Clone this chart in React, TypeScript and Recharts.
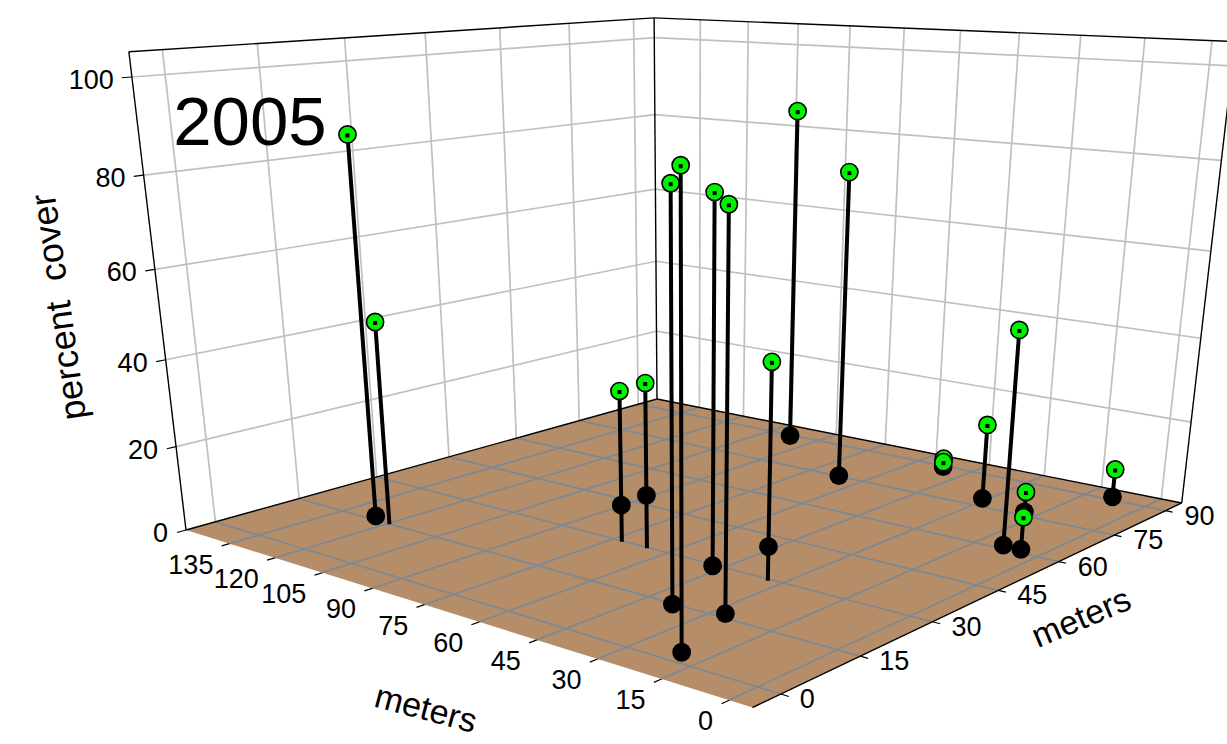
import { Area, ComposedChart, Line, Scatter, XAxis, YAxis } from "recharts";

const WIDTH = 1227;
const HEIGHT = 744;
const FONT = "Liberation Sans";

// plot ranges in meters / percent
const aRange = [-5, 150];
const bRange = [-5, 95];
const zMax = 105;

const aTicks = [0, 15, 30, 45, 60, 75, 90, 105, 120, 135];
const bTicks = [0, 15, 30, 45, 60, 75, 90];
const zTicks = [0, 20, 40, 60, 80, 100];

// sample sites
const siteA = [125.2, 119.4, 72.3, 65.3, 38.0, 17.9, 46.6, 27.0, 33.1, 97.5, 66.4, 54.8, 52.4, 30.7, 9.1, 18.0, 4.7, 8.8];
const siteB = [15.7, 14.9, 29.7, 29.7, 14.3, 0.7, 28.9, 15.9, 29.4, 88.9, 74.6, 91.9, 89.4, 78.2, 61.1, 76.2, 60.9, 90.9];
const coverTop = [87.3, 47.5, 34.9, 37.8, 84.8, 91.8, 79.9, 81.7, 47.4, 84.9, 74.8, 0.9, 1.3, 18.6, 48.9, 5.2, 7.8, 7.2];
const coverBase = [0.5, null, 8.7, 12.4, 0.4, 1.8, 0.5, 0.3, 7.7, 0.4, 0.4, null, 0.1, 0.3, 0.2, 0.3, 0.3, 0.3];

// camera: floor homography plus the vertical vanishing point
const G = 0.2907;
const H = 0.3406;
const VX = 690;
const VY = 4750;
const S = -0.0012512;

function project(a: number, b: number, z = 0) {
  const u = (a - aRange[0]) / (aRange[1] - aRange[0]);
  const v = (b - bRange[0]) / (bRange[1] - bRange[0]);
  const w = G * u + H * v + 1;
  const x = -512.43 * u + 831.7 * v + 752.5;
  const y = -23.43 * u - 33.2 * v + 707.5;
  const k = z * S;
  return { x: (x + k * VX) / (w + k), y: (y + k * VY) / (w + k) };
}

type Seg = { pts: { x: number; y: number }[]; stroke: string; width: number };
const seg = (p: { x: number; y: number }, q: { x: number; y: number }, stroke: string, width: number): Seg => ({
  pts: [p, q],
  stroke,
  width,
});

const GRID = "#c0c0c0";
const FLOOR_GRID = "#7f8890";
const BLACK = "#000";

const [aLo, aHi] = aRange;
const [bLo, bHi] = bRange;

const floorLines: Seg[] = [
  ...aTicks.map((a) => seg(project(a, bLo), project(a, bHi), FLOOR_GRID, 1.8)),
  ...bTicks.map((b) => seg(project(aLo, b), project(aHi, b), FLOOR_GRID, 1.8)),
];

const wallLines: Seg[] = [
  ...bTicks.map((b) => seg(project(aHi, b), project(aHi, b, zMax), GRID, 1.7)),
  ...aTicks.map((a) => seg(project(a, bHi), project(a, bHi, zMax), GRID, 1.7)),
  ...zTicks.slice(1).map((z) => seg(project(aHi, bLo, z), project(aHi, bHi, z), GRID, 1.7)),
  ...zTicks.slice(1).map((z) => seg(project(aHi, bHi, z), project(aLo, bHi, z), GRID, 1.7)),
];

const frameLines: Seg[] = [
  seg(project(aHi, bLo), project(aHi, bLo, zMax), BLACK, 1.4),
  seg(project(aHi, bHi), project(aHi, bHi, zMax), BLACK, 1.4),
  seg(project(aLo, bHi), project(aLo, bHi, zMax), BLACK, 1.4),
  seg(project(aHi, bLo, zMax), project(aHi, bHi, zMax), BLACK, 1.4),
  seg(project(aHi, bHi, zMax), project(aLo, bHi, zMax), BLACK, 1.4),
  seg(project(aHi, bLo), project(aHi, bHi), BLACK, 1.4),
  seg(project(aHi, bHi), project(aLo, bHi), BLACK, 1.4),
  seg(project(aLo, bLo), project(aLo, bHi), BLACK, 1.4),
  ...aTicks.map((a) => seg(project(a, bLo), project(a, bLo - 1.3), BLACK, 1.2)),
  ...bTicks.map((b) => seg(project(aLo, b), project(aLo - 1.7, b), BLACK, 1.2)),
  ...zTicks.map((z) => seg(project(aHi, bLo, z), project(aHi, bLo - 1.5, z), BLACK, 1.2)),
];

const stems: Seg[] = siteA.map((a, i) => seg(project(a, siteB[i]), project(a, siteB[i], coverTop[i]), BLACK, 4));

const topPoints = siteA.map((a, i) => project(a, siteB[i], coverTop[i]));
const basePoints = siteA.flatMap((a, i) => {
  const z = coverBase[i];
  return z === null ? [] : [project(a, siteB[i], z)];
});

// floor polygon as a band between its upper and lower edges
const cL = project(aHi, bLo);
const cB = project(aHi, bHi);
const cF = project(aLo, bLo);
const cR = project(aLo, bHi);
const edgeY = (p: { x: number; y: number }, q: { x: number; y: number }, x: number) =>
  p.y + ((q.y - p.y) * (x - p.x)) / (q.x - p.x);
const floorBand = [
  { x: cL.x, band: [cL.y, cL.y] },
  { x: cB.x, band: [cB.y, edgeY(cL, cF, cB.x)] },
  { x: cF.x, band: [edgeY(cB, cR, cF.x), cF.y] },
  { x: cR.x, band: [cR.y, cR.y] },
];

const aLabels = aTicks.map((a) => ({ ...project(a, bLo), label: String(a) }));
const bLabels = bTicks.map((b) => ({ ...project(aLo, b), label: String(b) }));
const zLabels = zTicks.map((z) => ({ ...project(aHi, bLo, z), label: String(z) }));

const TickText =
  (dx: number, dy: number, anchor: "start" | "end") =>
  ({ cx, cy, payload }: any) =>
    (
      <text
        x={cx + dx}
        y={cy + dy}
        textAnchor={anchor}
        dominantBaseline="central"
        fontFamily={FONT}
        fontSize={27}
        fill="#000"
      >
        {payload.label}
      </text>
    );

const Title =
  (size: number, angle: number) =>
  ({ cx, cy, payload }: any) =>
    (
      <text
        transform={`translate(${cx},${cy}) rotate(${angle})`}
        textAnchor="middle"
        dominantBaseline="central"
        fontFamily={FONT}
        fontSize={size}
        fill="#000"
      >
        {payload.label}
      </text>
    );

const BlackDot = ({ cx, cy }: any) => <circle cx={cx} cy={cy} r={9.4} fill="#000" />;

const GreenDot = ({ cx, cy }: any) => (
  <g>
    <circle cx={cx} cy={cy} r={8.6} fill="#00f200" stroke="#000" strokeWidth={1.6} />
    <rect x={cx - 2} y={cy - 1} width={4} height={4} fill="#000" />
  </g>
);

const renderSegs = (segs: Seg[], name: string) =>
  segs.map((s, i) => (
    <Line
      key={`${name}-${i}`}
      data={s.pts}
      dataKey="y"
      stroke={s.stroke}
      strokeWidth={s.width}
      dot={false}
      activeDot={false}
      legendType="none"
      isAnimationActive={false}
    />
  ));

export default function App() {
  return (
    <div style={{ position: "absolute", left: 0, top: 0 }}>
      <ComposedChart width={WIDTH} height={HEIGHT} margin={{ top: 0, right: 0, bottom: 0, left: 0 }}>
        <XAxis type="number" dataKey="x" domain={[0, WIDTH]} hide allowDataOverflow />
        <YAxis type="number" dataKey="y" domain={[0, HEIGHT]} reversed hide allowDataOverflow />
        <Area data={floorBand} dataKey="band" type="linear" fill="#b58e69" fillOpacity={1} stroke="none" dot={false} activeDot={false} isAnimationActive={false} />
        {renderSegs(wallLines, "wall")}
        {renderSegs(floorLines, "floor")}
        {renderSegs(frameLines, "frame")}
        {renderSegs(stems, "stem")}
        <Scatter data={basePoints} dataKey="y" shape={BlackDot} isAnimationActive={false} />
        <Scatter data={topPoints} dataKey="y" shape={GreenDot} isAnimationActive={false} />
        <Scatter data={aLabels} dataKey="y" shape={TickText(-16, 21, "end")} isAnimationActive={false} />
        <Scatter data={bLabels} dataKey="y" shape={TickText(19, 5, "start")} isAnimationActive={false} />
        <Scatter data={zLabels} dataKey="y" shape={TickText(-18, 3, "end")} isAnimationActive={false} />
        <Scatter data={[{ x: 250, y: 121, label: "2005" }]} dataKey="y" shape={Title(69, 0)} isAnimationActive={false} />
        <Scatter data={[{ x: 58, y: 307, label: "percent\u00a0\u00a0cover" }]} dataKey="y" shape={Title(36, -98)} isAnimationActive={false} />
        <Scatter data={[{ x: 426, y: 708, label: "meters" }]} dataKey="y" shape={Title(34, 15)} isAnimationActive={false} />
        <Scatter data={[{ x: 1081, y: 617, label: "meters" }]} dataKey="y" shape={Title(34, -23)} isAnimationActive={false} />
      </ComposedChart>
    </div>
  );
}
